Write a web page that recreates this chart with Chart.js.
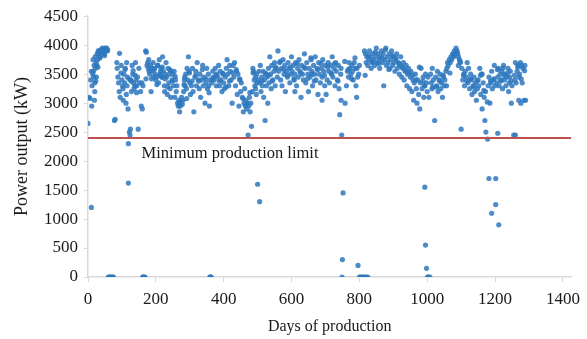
<!DOCTYPE html>
<html>
<head>
<meta charset="utf-8">
<script src="https://cdn.jsdelivr.net/npm/chart.js@4.4.0/dist/chart.umd.min.js"></script>
<style>
  html, body { margin: 0; padding: 0; background: #fff; }
  #wrap { width: 587px; height: 339px; }
</style>
</head>
<body>
<div id="wrap"><canvas id="myChart" width="587" height="339"></canvas></div>
<script>
// days of production, power output (kW)
const days = [
  0,3,6,8,10,10,12,14,15,16,17,18,20,20,21,22,24,25,26,27,28,30,32,34,36,38,40,42,44,46,48,50,52,55,58,
  60,63,66,69,72,75,78,80,
  85,86,88,90,92,95,98,100,102,104,106,108,110,112,114,115,116,118,119,119,122,124,125,126,128,130,132,134,136,138,140,142,144,148,146,150,152,155,157,160,162,
  159,161,163,165,
  168,170,172,174,176,178,180,182,184,186,188,190,192,194,196,198,200,
  202,205,208,210,212,215,218,220,222,225,228,230,232,234,236,238,240,242,245,248,250,252,254,256,258,260,218,226,244,206,214,
  262,264,266,268,270,272,274,276,278,280,282,284,286,288,290,292,294,296,298,300,285,270,
  302,305,308,310,312,315,318,320,322,325,328,330,332,335,338,340,342,345,348,350,352,355,358,360,
  356,359,361,363,
  362,365,368,370,372,375,378,380,382,385,388,390,392,395,398,400,402,405,408,410,412,415,418,420,422,425,428,430,432,435,438,440,442,445,448,450,
  452,455,458,460,462,464,466,468,470,472,474,476,478,480,482,484,486,488,490,492,494,496,498,494,506,500,
  502,504,506,508,510,512,514,516,518,520,522,524,526,528,530,532,534,536,538,540,542,545,548,550,552,555,558,560,
  562,565,568,570,572,575,578,580,582,585,588,590,592,595,598,600,602,605,608,610,612,615,618,620,622,625,628,630,632,635,638,640,642,645,648,650,652,655,658,660,662,665,668,670,672,675,678,680,682,685,688,690,692,695,698,700,660,690,610,
  702,705,708,710,712,715,718,720,722,725,728,730,732,735,738,740,742,745,746,748,746,752,749,750,758,762,765,768,770,772,775,778,780,782,785,788,790,792,795,798,800,
  793,796,800,804,808,815,820,825,
  812,815,818,820,822,825,828,830,832,835,838,840,842,845,848,850,852,855,858,860,862,865,868,870,872,875,878,880,882,885,888,890,892,895,898,900,902,905,908,910,912,915,918,920,922,925,928,930,932,935,938,940,942,945,948,950,952,955,958,960,962,965,968,970,972,975,978,980,982,985,988,990,992,995,998,1000,1002,1005,
  993,993,995,998,1001,1003,
  1008,1010,1012,1015,1018,1014,1022,1025,1028,1030,1032,1035,1038,1040,1042,1045,1048,1050,1052,1055,1058,
  1060,1062,1065,1068,1070,1072,1075,1078,1080,1082,1085,1088,1090,1092,1095,1098,1092,1100,1102,1105,1108,1110,
  1112,1115,1118,1120,1122,1125,1128,1130,1132,1135,1138,1140,1142,1145,1148,1150,1152,1155,1158,1160,1162,1165,1168,1170,1172,1173,1178,1180,1182,1185,1188,1190,1192,1195,1198,1200,
  1162,1182,1190,1202,1211,
  1202,1205,1208,1210,1212,1215,1218,1220,1222,1225,1228,1230,1232,1235,1238,1240,1242,1245,1248,1250,1243,1255,1258,1260,1262,1265,1268,1270,1272,1275,1278,1280,1282,1285,1288,1290,1223,1208,1260,1276,1270,
  // denser patches
  11,19,23,29,35,43,49,57,93,97,103,109,113,121,127,133,139,143,171,179,187,195,203,211,219,227,235,241,249,257,
  283,291,299,307,317,327,337,347,357,367,377,387,397,407,417,427,437,447,457,467,477,487,497,513,523,533,543,553,
  567,577,587,597,607,617,627,637,647,657,667,677,687,697,707,717,727,737,757,767,777,787,
  817,827,837,847,857,867,877,887,897,907,917,927,937,947,957,967,977,987,1017,1027,1037,1047,1057,1067,1077,1087,1097,
  1107,1117,1127,1137,1147,1157,1167,1177,1187,1197,1207,1217,1227,1237,1247,1257,1267,1277,1287
];
const power = [
  2650,3100,3080,3400,3550,1200,3300,3500,3750,3550,3450,3650,3200,3350,3800,3600,3700,3450,3650,3850,3750,3900,3850,3900,3800,3920,3880,3950,3900,3930,3850,3950,3900,3950,3920,
  0,0,0,0,0,0,2700,2720,
  3700,3600,3450,3350,3200,3100,3650,3400,3300,3050,3500,3350,3600,3000,3700,3300,3450,2900,2300,1620,2500,2450,2550,3400,3200,3650,3500,3350,3250,3300,3700,3400,3300,2550,3450,3600,3350,3200,2950,2900,3300,3350,
  0,0,0,0,
  3900,3880,3650,3700,3600,3550,3500,3650,3200,3600,3550,3700,3450,3600,3500,3400,3450,
  3650,3350,3750,3500,3600,3450,3800,3550,3300,3500,3700,3450,3150,3600,3350,3500,3250,3550,3400,3500,3300,3550,3100,3400,3200,3450,3200,3100,3650,3550,3300,
  3000,2950,3050,3000,2950,3020,3100,2980,3050,3200,3400,3300,3500,3250,3600,3400,3800,3550,3350,3450,2850,3150,
  3300,3600,3200,2850,3450,3550,3300,3700,3400,3250,3500,3100,3400,3650,3300,3450,3000,3350,3600,3250,3500,2950,3400,3300,
  0,0,0,0,
  3350,3550,3450,3400,3600,3300,3500,3450,3650,3300,3550,3400,3200,3500,3350,3250,3450,3600,3750,3500,3300,3650,3550,3400,3000,3650,3450,3700,3300,3550,3150,3500,2950,3400,3200,3350,
  3100,2850,3000,3250,2950,3050,2900,3000,2450,2950,3100,2850,3000,2600,3200,3600,3550,3400,3300,3450,3150,3350,3250,1300,1600,3400,
  3550,3350,3650,3200,3450,3300,3550,3100,3400,2700,3500,3300,3450,3000,3600,3350,3800,3500,3250,3650,3400,3550,3700,3300,3600,3450,3900,3550,
  3700,3400,3600,3300,3750,3500,3650,3200,3550,3450,3700,3600,3350,3500,3800,3550,3650,3400,3500,3700,3300,3600,3450,3750,3550,3100,3650,3500,3400,3850,3600,3350,3700,3500,3200,3600,3450,3750,3550,3300,3650,3500,3800,3400,3600,3150,3700,3500,3350,3600,3450,3750,3550,3300,3650,3500,3050,3200,3150,
  3400,3700,3550,3350,3650,3500,3800,3450,3600,3300,3700,3550,3400,3650,3250,2800,3500,3600,2450,3050,1450,0,300,3000,3300,3550,3450,3700,3600,3500,3650,3550,3400,3700,3600,3300,3100,3450,3500,3650,3600,
  200,0,0,0,0,0,0,0,
  3900,3850,3700,3800,3650,3750,3900,3800,3600,3700,3850,3750,3650,3800,3950,3700,3850,3750,3600,3800,3900,3700,3850,3300,3750,3950,3650,3800,3700,3850,3600,3750,3900,3650,3800,3700,3550,3750,3850,3600,3700,3500,3650,3800,3450,3600,3700,3400,3550,3650,3300,3500,3600,3250,3450,3550,3200,3400,3050,3350,3500,3250,3000,3400,3150,2900,3350,3600,3250,3450,3100,3300,3500,3350,3200,3450,3100,3300,
  1550,550,150,0,0,0,
  3500,3350,3600,3400,3250,2700,3450,3300,3550,3200,3400,3500,3250,3350,3100,3450,3300,3400,3550,3600,3700,
  3650,3750,3700,3800,3750,3850,3800,3900,3850,3950,3900,3850,3800,3750,3700,3650,2550,3600,3400,3500,3300,3550,
  3450,3700,3350,3600,3250,3500,3400,3150,3300,3450,3200,3350,3050,3250,3400,3300,3600,3150,3500,2900,3350,3100,2700,3200,2500,2380,3300,3450,3000,3350,3550,3250,3400,3650,3300,3500,
  1700,1100,1250,900,1700,
  3350,3450,3600,3300,3500,3400,3550,3250,3650,3400,3500,3300,3450,3600,3200,3350,3550,3000,3300,3450,2450,3400,3700,3350,3550,3650,3450,3500,3700,3650,3350,3600,3050,3650,3050,3600,2480,2450,3000,3050,2950,
  // denser patches
  3050,3380,3620,3780,3870,3820,3900,3860,3520,3250,3580,3150,3420,3380,3560,3480,3180,3420,3750,3420,3580,3320,3480,3620,3420,3280,3580,3380,3460,3320,
  3080,3520,3380,3480,3380,3580,3420,3180,3420,3480,3380,3520,3280,3380,3520,3580,3420,3080,2980,3180,3520,3500,3380,3520,3480,3380,3620,3720,
  3580,3480,3620,3420,3680,3520,3620,3420,3780,3380,3580,3680,3480,3620,3520,3680,3380,3720,3580,3420,3780,3480,
  3820,3720,3880,3680,3780,3920,3580,3820,3780,3680,3620,3560,3520,3480,3400,3620,3380,3280,3280,3380,3480,3300,3520,3820,3880,3720,3480,
  3380,3420,3280,3380,3480,3220,3020,3380,3420,3580,3380,3480,3520,3380,3480,3620,3420,3560,3300
];
const xTicks = [0, 200, 400, 600, 800, 1000, 1200, 1400];
const yTicks = [0, 500, 1000, 1500, 2000, 2500, 3000, 3500, 4000, 4500];
const limitValue = 2400;
const limitLabel = "Minimum production limit";
const xTitle = "Days of production";
const yTitle = "Power output (kW)";

const serif = "'Liberation Serif', 'DejaVu Serif', serif";
const textColor = "#1a1a1a";
const axisGray = "#d9d9d9";

const points = days.map((d, i) => ({ x: d, y: power[i] }));

const limitText = {
  id: "limitText",
  afterDatasetsDraw(chart) {
    const { ctx, scales } = chart;
    ctx.save();
    ctx.font = "16.5px " + serif;
    ctx.fillStyle = textColor;
    ctx.textBaseline = "middle";
    ctx.textAlign = "left";
    ctx.fillText(limitLabel, scales.x.getPixelForValue(158), scales.y.getPixelForValue(2135));
    ctx.restore();
  },
};

new Chart(document.getElementById("myChart"), {
  type: "scatter",
  plugins: [limitText],
  data: {
    datasets: [
      {
        data: points,
        pointRadius: 2.6,
        pointBorderWidth: 0,
        pointBackgroundColor: "rgba(46,120,190,0.85)",
        pointBorderColor: "rgba(46,120,190,0.85)",
        order: 2,
      },
      {
        type: "line",
        data: [
          { x: 0, y: limitValue },
          { x: 1425, y: limitValue },
        ],
        borderColor: "#c0504d",
        borderWidth: 2,
        pointRadius: 0,
        order: 1,
      },
    ],
  },
  options: {
    responsive: false,
    animation: false,
    layout: { padding: { top: 8, right: 7, left: 0, bottom: 0 } },
    plugins: { legend: { display: false }, tooltip: { enabled: false } },
    scales: {
      x: {
        type: "linear",
        min: 0,
        max: 1425,
        afterBuildTicks: (scale) => {
          scale.ticks = xTicks.map((v) => ({ value: v }));
        },
        afterFit: (scale) => {
          scale.height = 62;
        },
        ticks: {
          font: { family: serif, size: 17 },
          color: textColor,
          padding: 7,
          callback: (v) => String(v),
        },
        grid: {
          drawOnChartArea: false,
          color: axisGray,
          tickLength: 5,
        },
        border: { color: axisGray, width: 1.5 },
        title: {
          display: true,
          text: xTitle,
          font: { family: serif, size: 16 },
          color: textColor,
          padding: { top: 0, bottom: 3 },
        },
      },
      y: {
        min: 0,
        max: 4500,
        afterBuildTicks: (scale) => {
          scale.ticks = yTicks.map((v) => ({ value: v }));
        },
        afterFit: (scale) => {
          scale.width = 88;
        },
        ticks: {
          font: { family: serif, size: 17 },
          color: textColor,
          padding: 6,
          callback: (v) => String(v),
        },
        grid: {
          drawOnChartArea: false,
          color: axisGray,
          tickLength: 4,
        },
        border: { color: axisGray, width: 1.5 },
        title: {
          display: true,
          text: yTitle,
          font: { family: serif, size: 18 },
          color: textColor,
          padding: { top: 11, bottom: 4 },
        },
      },
    },
  },
});
</script>
</body>
</html>
